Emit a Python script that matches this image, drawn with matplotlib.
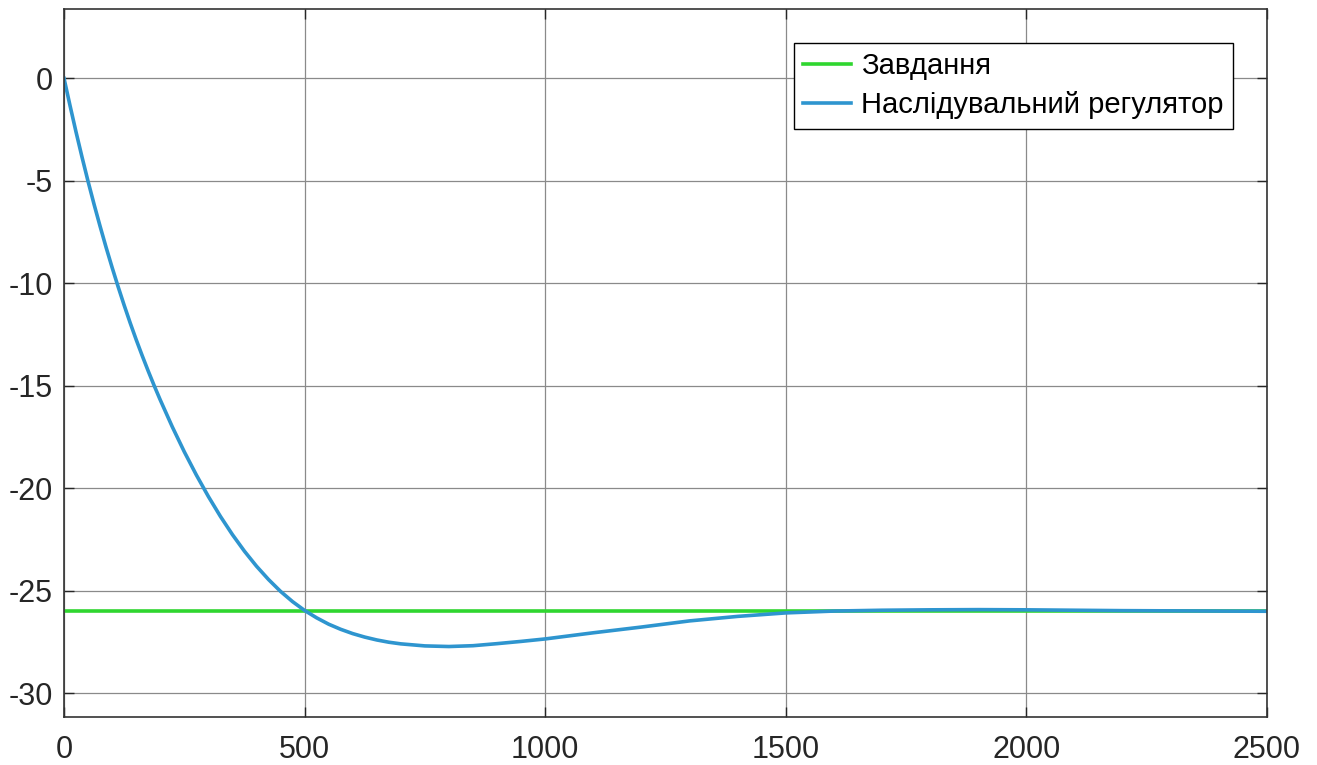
import numpy as np
import matplotlib
matplotlib.use("Agg")
import matplotlib.pyplot as plt

plt.rcParams['font.family'] = ['Liberation Sans', 'DejaVu Sans']
plt.rcParams['axes.unicode_minus'] = False

# readings from the reference
t = [0, 12.5, 25, 37.5, 50, 62.5, 75, 87.5, 100, 112.5, 125, 137.5, 150,
     162.5, 175, 187.5, 200, 225, 250, 275, 300, 325, 350, 375, 400, 425,
     450, 475, 500, 525, 550, 575, 600, 625, 650, 675, 700, 750, 800, 850,
     900, 950, 1000, 1100, 1200, 1300, 1400, 1500, 1600, 1700, 1800, 1900,
     2000, 2100, 2200, 2300, 2400, 2500]
y_reg = [0, -1.33, -2.62, -3.85, -5.03, -6.15, -7.22, -8.25, -9.23, -10.17,
         -11.07, -11.93, -12.75, -13.53, -14.28, -15.0, -15.69, -17.0, -18.22,
         -19.35, -20.4, -21.37, -22.26, -23.07, -23.8, -24.45, -25.03, -25.53,
         -25.96, -26.32, -26.63, -26.88, -27.09, -27.26, -27.4, -27.51, -27.59,
         -27.69, -27.72, -27.68, -27.58, -27.47, -27.35, -27.05, -26.77,
         -26.47, -26.25, -26.08, -25.99, -25.95, -25.93, -25.92, -25.93,
         -25.95, -25.97, -25.98, -25.99, -26.0]
setpoint = -26
labels = ["Завдання", "Наслідувальний регулятор"]

fig = plt.figure(figsize=(13.17, 7.65), dpi=100)
ax = fig.add_axes([0.0486, 0.0627, 0.9134, 0.9255])

ax.plot([t[0], t[-1]], [setpoint, setpoint], color='#2fd62f', lw=2.6, label=labels[0])
ax.plot(t, y_reg, color='#2e95cf', lw=2.6, label=labels[1])

ax.set_xlim(0, 2500)
ax.set_ylim(-31.16, 3.38)
ax.set_xticks(np.arange(0, 2501, 500))
ax.set_yticks(np.arange(-30, 1, 5))
ax.grid(True, color='#8a8a8a', lw=0.9)
ax.tick_params(direction='in', length=7, width=1, labelsize=22,
               top=True, right=True, colors='#262626')
ax.tick_params(axis='y', pad=8)
ax.tick_params(axis='x', pad=13)
for s in ax.spines.values():
    s.set_color('#333333')
    s.set_linewidth(1.2)

leg = ax.legend(loc='upper right', bbox_to_anchor=(0.972, 0.952), borderaxespad=0,
                fontsize=21, fancybox=False, framealpha=1, edgecolor='black',
                handlelength=1.65, handletextpad=0.35, labelspacing=0.38,
                borderpad=0.32)
leg.get_frame().set_linewidth(1.0)

fig.savefig("out.png", dpi=100)
